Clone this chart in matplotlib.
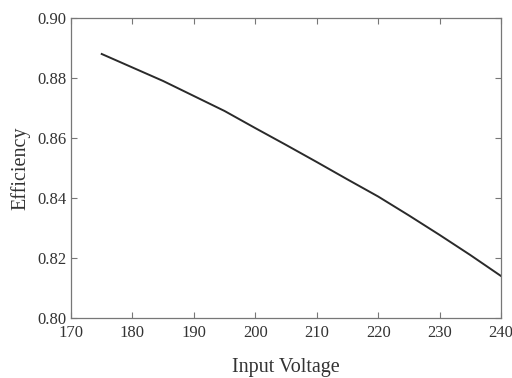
import numpy as np
import matplotlib
matplotlib.use("Agg")
import matplotlib.pyplot as plt

# Efficiency vs input voltage
voltage = [175, 180, 185, 190, 195, 200, 205, 210, 215, 220, 225, 230, 235, 240]
efficiency = [0.888, 0.8835, 0.879, 0.874, 0.869, 0.8633, 0.8577, 0.852, 0.8462,
              0.8405, 0.8342, 0.8277, 0.821, 0.814]

x_ticks = [170, 180, 190, 200, 210, 220, 230, 240]
y_ticks = [0.80, 0.82, 0.84, 0.86, 0.88, 0.90]

plt.rcParams['font.family'] = ['Liberation Serif', 'DejaVu Serif']

fig = plt.figure(figsize=(5.12, 3.78), dpi=100)
ax = fig.add_axes([0.1387, 0.1587, 0.8398, 0.7937])

ax.plot(voltage, efficiency, color="#2a2a2a", linewidth=1.4)

ax.set_xlim(170, 240)
ax.set_ylim(0.80, 0.90)
ax.set_xticks(x_ticks)
ax.set_yticks(y_ticks)
ax.set_yticklabels([f"{t:.2f}" for t in y_ticks])

ax.tick_params(direction="in", top=True, right=True, length=4, width=0.8,
               color="#777777", labelsize=12, labelcolor="#333333")
ax.tick_params(axis="x", pad=5)
ax.tick_params(axis="y", pad=3)
for s in ax.spines.values():
    s.set_color("#777777")
    s.set_linewidth(0.9)

ax.set_xlabel("Input Voltage", fontsize=14.5, color="#333333", labelpad=12)
ax.set_ylabel("Efficiency", fontsize=14.5, color="#333333", labelpad=5)

fig.savefig("out.png", dpi=100)
